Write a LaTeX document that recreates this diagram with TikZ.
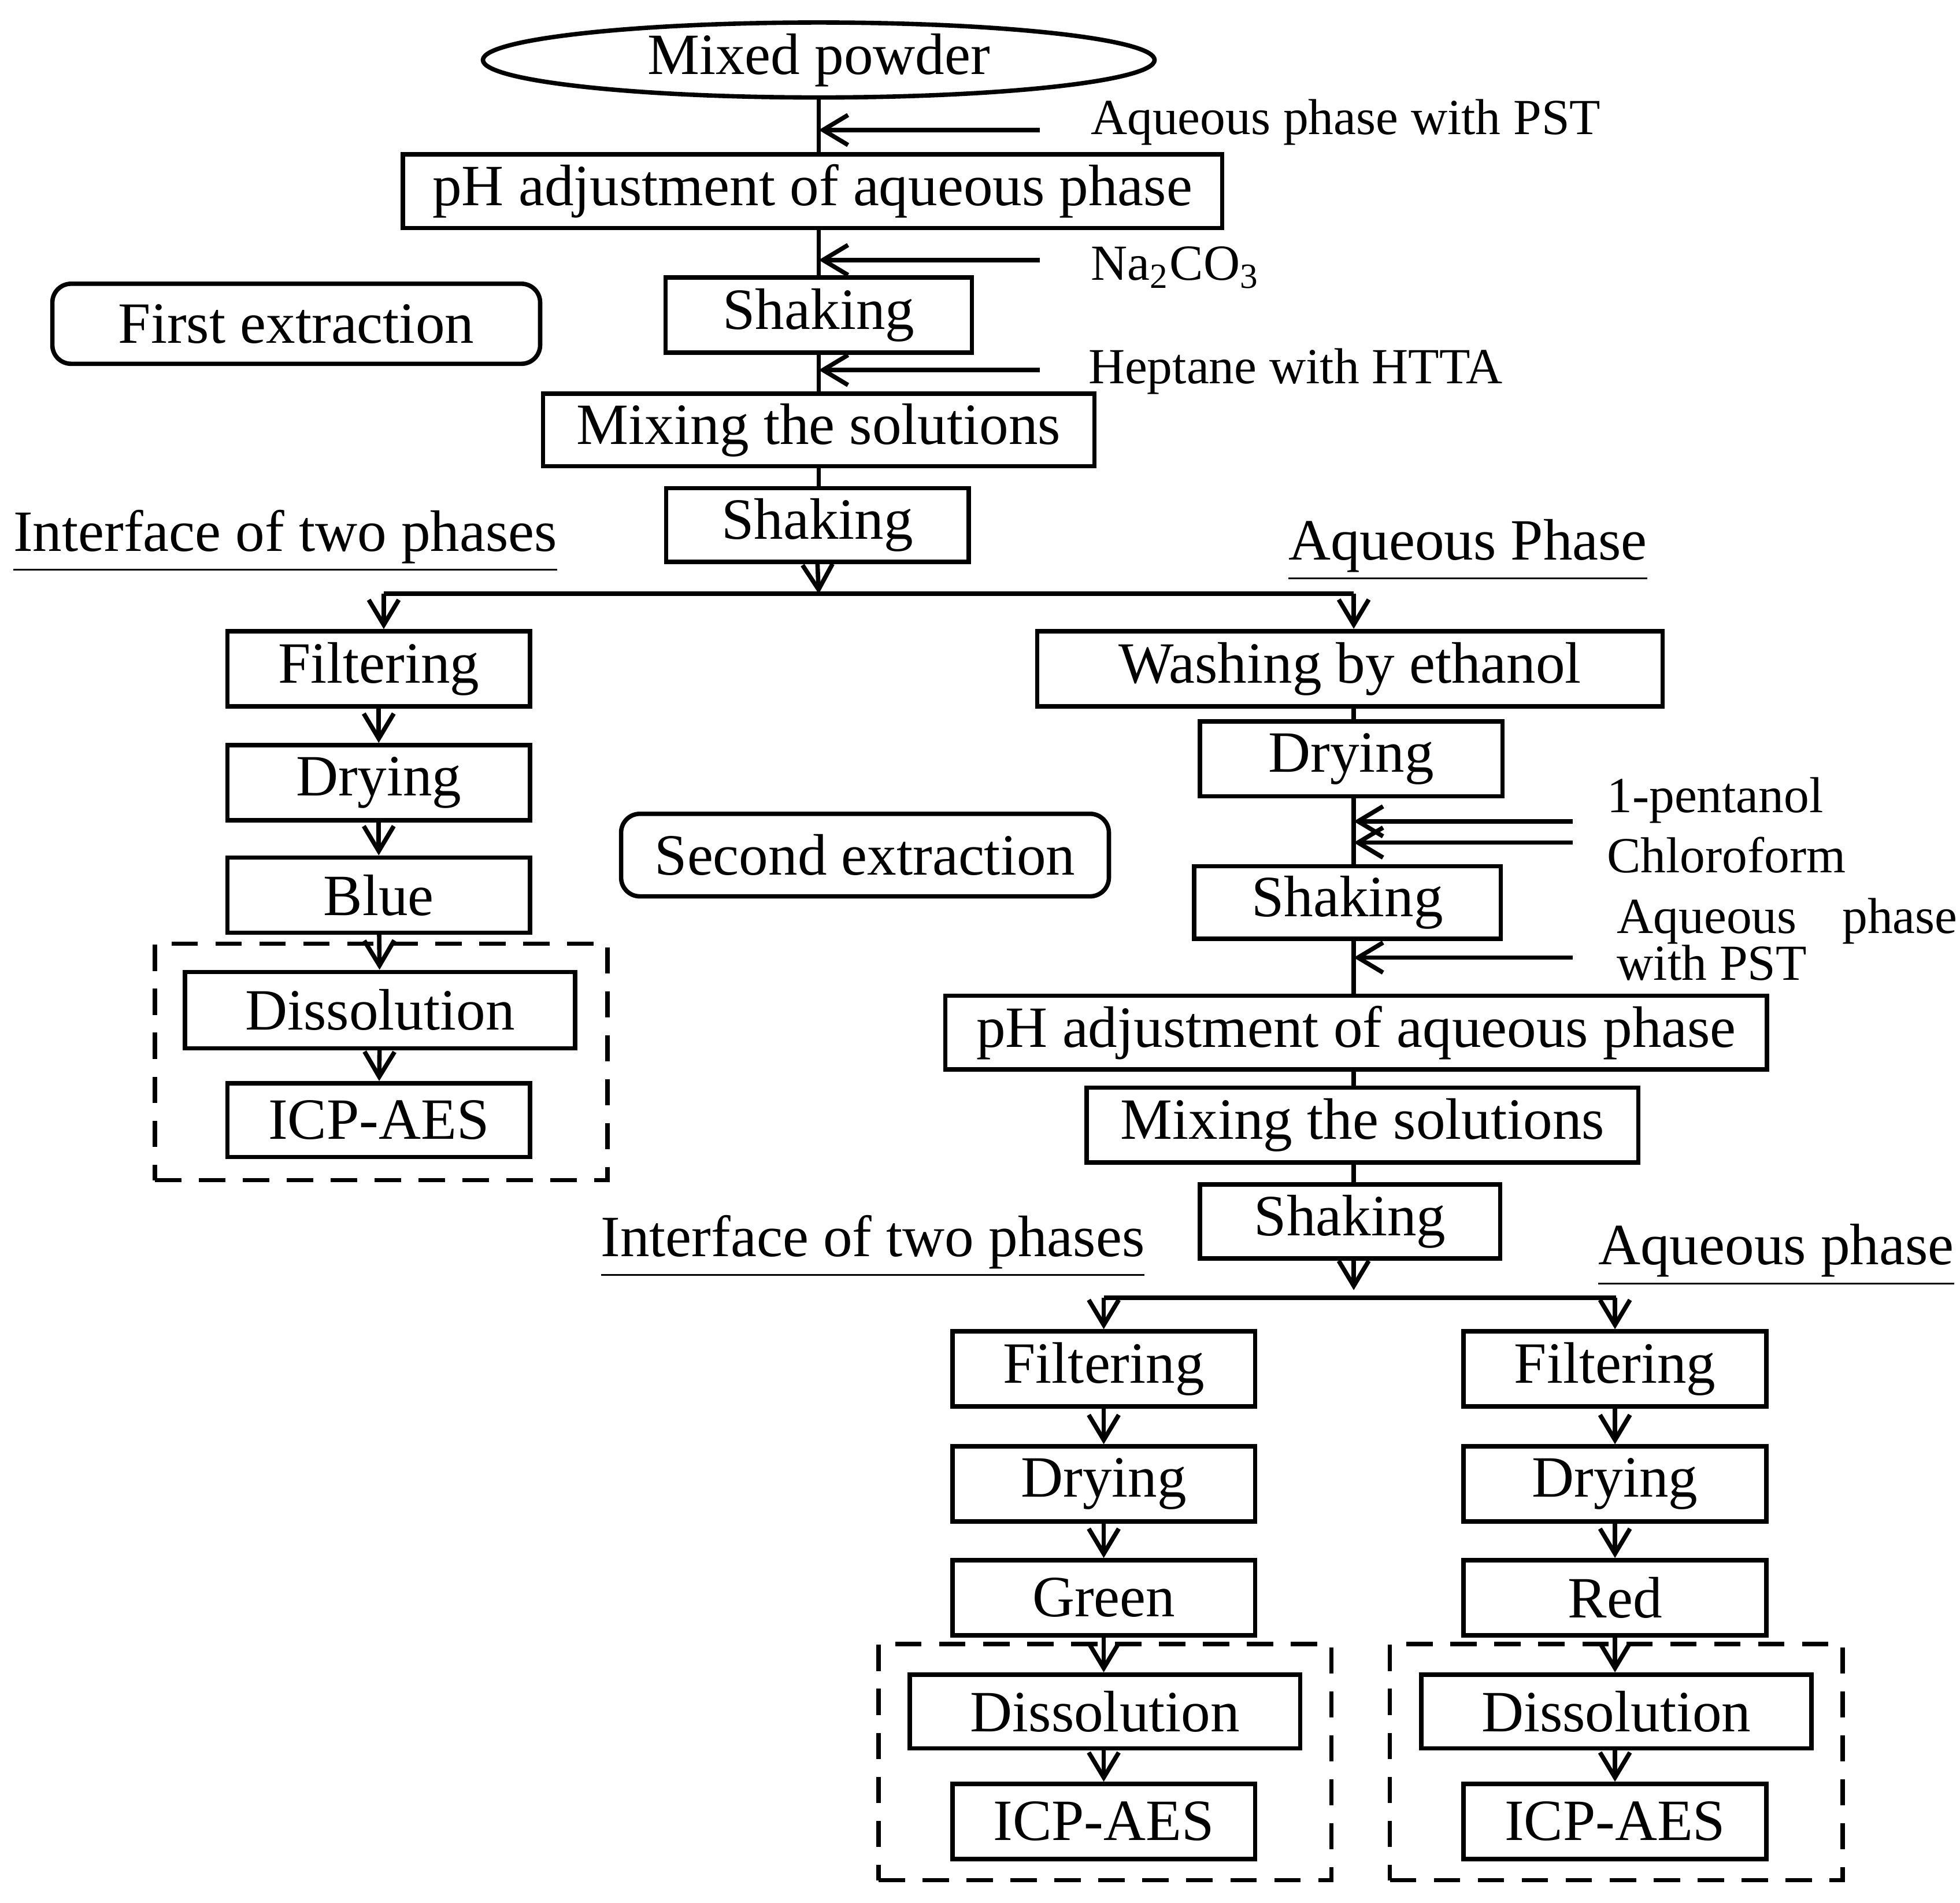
\documentclass[tikz,border=0pt]{standalone}
\usepackage{fontspec}
\setmainfont{Liberation Serif}
\usetikzlibrary{arrows.meta,shapes.geometric}
\begin{document}
\begin{tikzpicture}[x=0.01cm,y=-0.01cm,
  box/.style={draw,line width=1pt,inner sep=0pt,font=\fontsize{13.3}{15}\selectfont},
  rbox/.style={box,rounded corners=0.15cm},
  dbox/.style={draw,line width=1pt,dash pattern=on 6pt off 4pt},
  lab/.style={font=\fontsize{11.5}{13}\selectfont,anchor=west,inner sep=0pt,align=left},
  ul/.style={font=\fontsize{13.3}{15}\selectfont,inner sep=0pt},
  arr/.style={line width=1pt,-{Straight Barb[length=2mm,width=2.4mm]}},
  ln/.style={line width=1pt}]
\useasboundingbox (0,0) rectangle (1568,1522);
% first extraction
\node[box,ellipse,minimum width=5.37cm,minimum height=0.56cm] (mp) at (655,48) {Mixed powder};
\node[box,minimum width=6.55cm,minimum height=0.59cm] (ph1) at (650,153) {pH adjustment of aqueous phase};
\node[box,minimum width=2.45cm,minimum height=0.6cm] (sh1) at (655,252) {Shaking};
\node[box,minimum width=4.41cm,minimum height=0.58cm] (mx1) at (655,344) {Mixing the solutions};
\node[box,minimum width=2.42cm,minimum height=0.59cm] (sh2) at (654,420) {Shaking};
\node[rbox,minimum width=3.9cm,minimum height=0.64cm] (fe) at (237,259) {First extraction};
\draw[ln] (mp.south) -- (655,124) (655,183) -- (655,222) (655,282) -- (655,315) (655,373) -- (655,390);
\coordinate (a1) at (832,104); \coordinate (a1e) at (655,104);
\coordinate (a2) at (832,208); \coordinate (a2e) at (655,208);
\coordinate (a3) at (832,296); \coordinate (a3e) at (655,296);
\draw[arr] (a1) -- (a1e); \draw[arr] (a2) -- (a2e); \draw[arr] (a3) -- (a3e);
\node[lab] (l1) at (872,98) {Aqueous phase with PST};
\node[lab] (l2) at (872,214) {Na\textsubscript{2}CO\textsubscript{3}};
\node[lab] (l3) at (870,297) {Heptane with HTTA};
\coordinate (s1) at (655,475); \coordinate (sL) at (307,475); \coordinate (sR) at (1083,475);
\draw[arr] (sh2.south) -- (s1);
\draw[ln] (sL) -- (sR);
\node[ul,anchor=west] (it1) at (10,433) {\underline{Interface of two phases}};
\node[ul,anchor=west] (aq1) at (1030,440) {\underline{Aqueous Phase}};
% left column
\node[box,minimum width=2.42cm,minimum height=0.6cm] (f1) at (303,535) {Filtering};
\node[box,minimum width=2.42cm,minimum height=0.6cm] (d1) at (303,626) {Drying};
\node[box,minimum width=2.42cm,minimum height=0.6cm] (b1) at (303,716) {Blue};
\node[dbox,minimum width=3.62cm,minimum height=1.89cm] (db1) at (305,849.5) {};
\node[box,minimum width=3.12cm,minimum height=0.61cm] (ds1) at (304,808) {Dissolution};
\node[box,minimum width=2.42cm,minimum height=0.59cm] (ic1) at (303,896) {ICP-AES};
\draw[arr] (sL) -- (f1.north -| sL);
\draw[arr] (f1) -- (d1); \draw[arr] (d1) -- (b1); \draw[arr] (b1) -- (ds1); \draw[arr] (ds1) -- (ic1);
% second extraction
\node[rbox,minimum width=3.9cm,minimum height=0.66cm] (se) at (692,684) {Second extraction};
\node[box,minimum width=5.0cm,minimum height=0.6cm] (w) at (1080,535) {Washing by ethanol};
\node[box,minimum width=2.42cm,minimum height=0.6cm] (d2) at (1081,607) {Drying};
\node[box,minimum width=2.45cm,minimum height=0.58cm] (sh3) at (1078,722) {Shaking};
\node[box,minimum width=6.57cm,minimum height=0.59cm] (ph2) at (1085,826) {pH adjustment of aqueous phase};
\node[box,minimum width=4.41cm,minimum height=0.6cm] (mx2) at (1090,900) {Mixing the solutions};
\node[box,minimum width=2.4cm,minimum height=0.59cm] (sh4) at (1080,977) {Shaking};
\draw[arr] (sR) -- (1083,503);
\draw[ln] (1083,565) -- (1083,577) (1083,637) -- (1083,693) (1083,751) -- (1083,797) (1083,856) -- (1083,870) (1083,930) -- (1083,948);
\coordinate (b1s) at (1258,657); \coordinate (b1e) at (1083,657);
\coordinate (b2s) at (1258,674); \coordinate (b2e) at (1083,674);
\coordinate (b3s) at (1258,766); \coordinate (b3e) at (1083,766);
\draw[arr] (b1s) -- (b1e); \draw[arr] (b2s) -- (b2e); \draw[arr] (b3s) -- (b3e);
\node[lab] (m1) at (1285,640) {1-pentanol};
\node[lab] (m2) at (1285,684) {Chloroform};
\node[lab] (m3) at (1293,737) {Aqueous\hspace{0.9em}phase};
\node[lab] (m4) at (1293,770) {with PST};
\coordinate (s2) at (1083,1032); \coordinate (tL) at (883,1038); \coordinate (tR) at (1293,1038);
\draw[arr] (1083,1007) -- (s2);
\draw[ln] (tL) -- (tR);
\node[ul,anchor=west] (it2) at (480,997) {\underline{Interface of two phases}};
\node[ul,anchor=west] (aq2) at (1278,1004) {\underline{Aqueous phase}};
% bottom columns
\foreach \n/\x/\c in {g/883/Green, r/1292/Red} {
  \node[box,minimum width=2.42cm,minimum height=0.6cm] (f\n) at (\x,1095) {Filtering};
  \node[box,minimum width=2.42cm,minimum height=0.6cm] (d\n) at (\x,1187) {Drying};
  \node[box,minimum width=2.42cm,minimum height=0.6cm] (c\n) at (\x,1278) {\c};
  \node[dbox,minimum width=3.62cm,minimum height=1.89cm] (db\n) at (\x+1,1409.5) {};
  \node[box,minimum width=3.12cm,minimum height=0.59cm] (ds\n) at (\x+1,1369) {Dissolution};
  \node[box,minimum width=2.42cm,minimum height=0.6cm] (ic\n) at (\x,1457) {ICP-AES};
  \draw[arr] (\x,1038) -- (f\n.north);
  \draw[arr] (f\n) -- (d\n); \draw[arr] (d\n) -- (c\n); \draw[arr] (c\n) -- (ds\n.north -| c\n); \draw[arr] (ds\n.south -| ic\n) -- (ic\n);
}
\end{tikzpicture}
\end{document}
